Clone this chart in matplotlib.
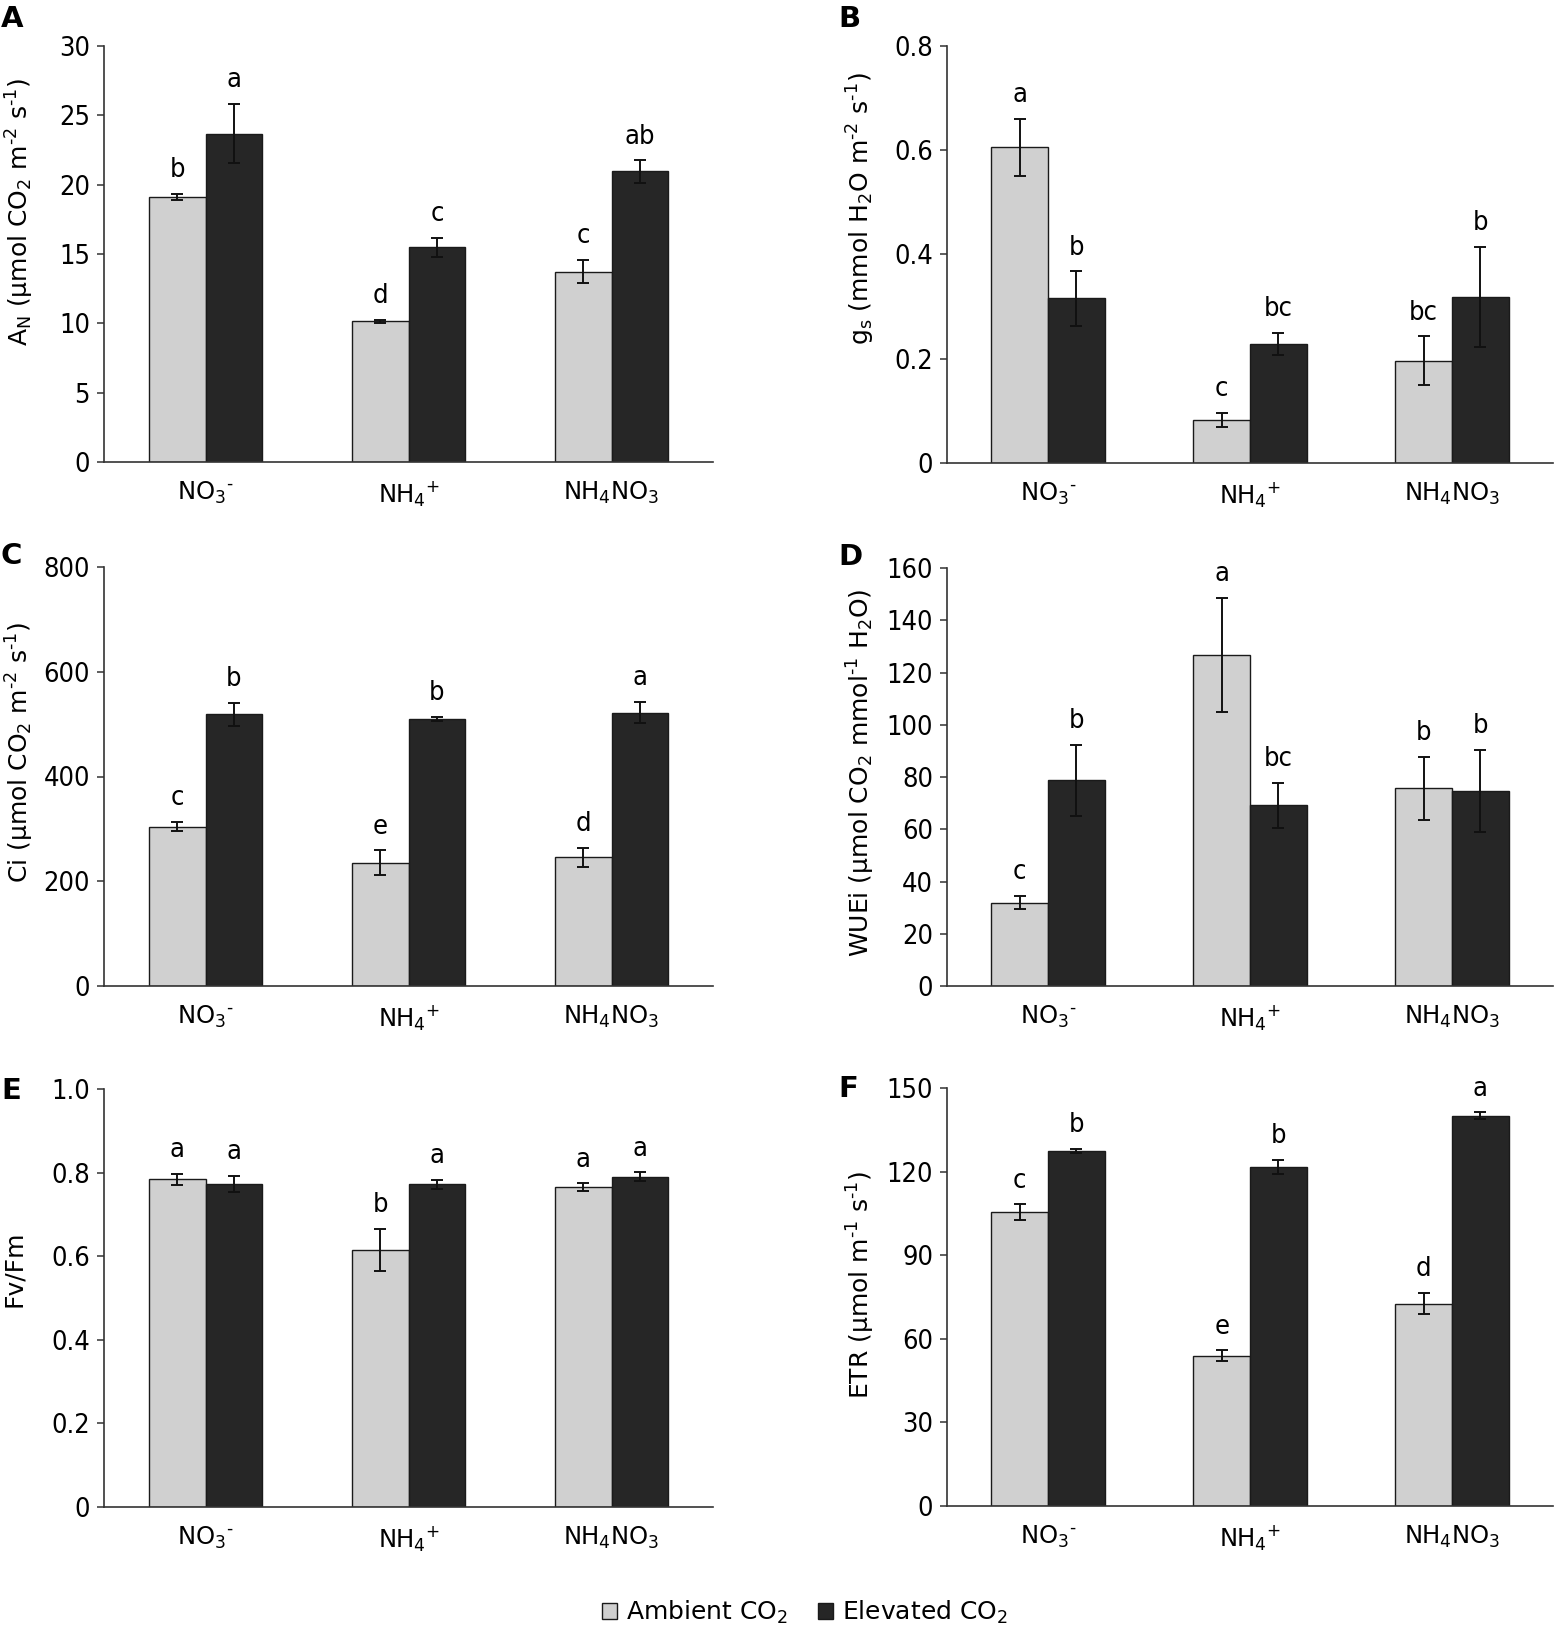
import matplotlib
matplotlib.use("Agg")
import matplotlib.pyplot as plt
from matplotlib.patches import Patch
import numpy as np

plt.rcParams['font.family'] = ['DejaVu Sans']
plt.rcParams['mathtext.fontset'] = 'dejavusans'

categories = [r'NO$_3$$^{\text{-}}$', r'NH$_4$$^{+}$', r'NH$_4$NO$_3$']

# Panel A: net photosynthesis
A_amb = [19.13, 10.15, 13.72]
A_amb_err = [0.2, 0.1, 0.84]
A_elev = [23.68, 15.49, 20.95]
A_elev_err = [2.15, 0.68, 0.81]
A_amb_let = ['b', 'd', 'c']
A_elev_let = ['a', 'c', 'ab']

# Panel B: stomatal conductance
B_amb = [0.606, 0.0825, 0.196]
B_amb_err = [0.0546, 0.014, 0.047]
B_elev = [0.3156, 0.229, 0.319]
B_elev_err = [0.052, 0.021, 0.096]
B_amb_let = ['a', 'c', 'bc']
B_elev_let = ['b', 'bc', 'b']

# Panel C: Ci
C_amb = [304, 235, 246]
C_amb_err = [9, 24, 18]
C_elev = [519, 510, 522]
C_elev_err = [22, 4, 20]
C_amb_let = ['c', 'e', 'd']
C_elev_let = ['b', 'b', 'a']

# Panel D: WUEi
D_amb = [31.9, 126.7, 75.7]
D_amb_err = [2.5, 22, 12.1]
D_elev = [78.7, 69.1, 74.7]
D_elev_err = [13.6, 8.7, 15.6]
D_amb_let = ['c', 'a', 'b']
D_elev_let = ['b', 'bc', 'b']

# Panel E: Fv/Fm
E_amb = [0.7836, 0.615, 0.765]
E_amb_err = [0.013, 0.05, 0.0095]
E_elev = [0.7725, 0.7717, 0.790]
E_elev_err = [0.019, 0.0103, 0.0103]
E_amb_let = ['a', 'b', 'a']
E_elev_let = ['a', 'a', 'a']

# Panel F: ETR
F_amb = [105.5, 54.0, 72.6]
F_amb_err = [2.7, 1.9, 3.8]
F_elev = [127.4, 121.7, 140.0]
F_elev_err = [0.7, 2.6, 1.3]
F_amb_let = ['c', 'e', 'd']
F_elev_let = ['b', 'b', 'a']

W, H = 1555, 1628
fig = plt.figure(figsize=(W / 100, H / 100), dpi=100)

amb_color = '#d0d0d0'
elev_color = '#262626'
edge = '#1a1a1a'

m2s1 = r'm$^{\text{-2}}$ s$^{\text{-1}}$'

panels = [
    dict(key='A', rect=(104, 46, 713, 462), ylim=30, yticks=[0, 5, 10, 15, 20, 25, 30],
         ytl=['0', '5', '10', '15', '20', '25', '30'],
         ylabel=r'A$_\mathregular{N}$ (µmol CO$_2$ ' + m2s1 + ')', lab=(-0.112, 0.60),
         amb=A_amb, ae=A_amb_err, elev=A_elev, ee=A_elev_err, al=A_amb_let, el=A_elev_let,
         letter=(1, 5)),
    dict(key='B', rect=(947, 46, 1553, 463), ylim=0.8, yticks=[0, 0.2, 0.4, 0.6, 0.8],
         ytl=['0', '0.2', '0.4', '0.6', '0.8'],
         ylabel=r'g$_\mathregular{s}$ (mmol H$_2$O ' + m2s1 + ')', lab=(-0.115, 0.61),
         amb=B_amb, ae=B_amb_err, elev=B_elev, ee=B_elev_err, al=B_amb_let, el=B_elev_let,
         letter=(838, 5)),
    dict(key='C', rect=(104, 567, 713, 986), ylim=800, yticks=[0, 200, 400, 600, 800],
         ytl=['0', '200', '400', '600', '800'],
         ylabel=r'Ci (µmol CO$_2$ ' + m2s1 + ')', lab=(-0.112, 0.557),
         amb=C_amb, ae=C_amb_err, elev=C_elev, ee=C_elev_err, al=C_amb_let, el=C_elev_let,
         letter=(1, 542)),
    dict(key='D', rect=(947, 568, 1553, 986), ylim=160, yticks=[0, 20, 40, 60, 80, 100, 120, 140, 160],
         ytl=['0', '20', '40', '60', '80', '100', '120', '140', '160'],
         ylabel=r'WUEi (µmol CO$_2$ mmol$^{\text{-1}}$ H$_2$O)', lab=(-0.115, 0.51),
         amb=D_amb, ae=D_amb_err, elev=D_elev, ee=D_elev_err, al=D_amb_let, el=D_elev_let,
         letter=(838, 543)),
    dict(key='E', rect=(104, 1089, 713, 1507), ylim=1.0, yticks=[0, 0.2, 0.4, 0.6, 0.8, 1.0],
         ytl=['0', '0.2', '0.4', '0.6', '0.8', '1.0'],
         ylabel='Fv/Fm', lab=(-0.128, 0.57),
         amb=E_amb, ae=E_amb_err, elev=E_elev, ee=E_elev_err, al=E_amb_let, el=E_elev_let,
         letter=(1, 1077)),
    dict(key='F', rect=(947, 1088, 1553, 1506), ylim=150, yticks=[0, 30, 60, 90, 120, 150],
         ytl=['0', '30', '60', '90', '120', '150'],
         ylabel=r'ETR (µmol m$^{\text{-1}}$ s$^{\text{-1}}$)', lab=(-0.115, 0.53),
         amb=F_amb, ae=F_amb_err, elev=F_elev, ee=F_elev_err, al=F_amb_let, el=F_elev_let,
         letter=(838, 1075)),
]

x = np.arange(len(categories))
bw = 0.28

for p in panels:
    l, t, r, b = p['rect']
    ax = fig.add_axes([l / W, 1 - b / H, (r - l) / W, (b - t) / H])
    ax.bar(x - bw / 2, p['amb'], bw, color=amb_color, edgecolor=edge, linewidth=1.0, zorder=2)
    ax.bar(x + bw / 2, p['elev'], bw, color=elev_color, edgecolor=edge, linewidth=1.0, zorder=2)
    ax.errorbar(x - bw / 2, p['amb'], yerr=p['ae'], fmt='none', ecolor='#111111',
                elinewidth=1.4, capsize=4, capthick=1.4, zorder=3)
    ax.errorbar(x + bw / 2, p['elev'], yerr=p['ee'], fmt='none', ecolor='#111111',
                elinewidth=1.4, capsize=4, capthick=1.4, zorder=3)
    for xi, v, e, s in zip(x - bw / 2, p['amb'], p['ae'], p['al']):
        ax.annotate(s, (xi, v + e), xytext=(0, 12), textcoords='offset points',
                    ha='center', va='baseline', fontsize=19.5, fontstretch='condensed')
    for xi, v, e, s in zip(x + bw / 2, p['elev'], p['ee'], p['el']):
        ax.annotate(s, (xi, v + e), xytext=(0, 12), textcoords='offset points',
                    ha='center', va='baseline', fontsize=19.5, fontstretch='condensed')
    ax.set_xlim(-0.5, 2.5)
    ax.set_ylim(0, p['ylim'])
    ax.set_yticks(p['yticks'])
    ax.set_yticklabels(p['ytl'], fontsize=19.5, fontstretch='condensed')
    ax.set_xticks(x)
    ax.set_xticklabels(categories, fontsize=17.5)
    ax.tick_params(axis='x', length=0, pad=13)
    ax.tick_params(axis='y', length=5, width=1.1, pad=5, color='#333333')
    for s in ['top', 'right']:
        ax.spines[s].set_visible(False)
    for s in ['left', 'bottom']:
        ax.spines[s].set_color('#333333')
        ax.spines[s].set_linewidth(1.2)
    ax.set_ylabel(p['ylabel'], fontsize=18)
    ax.yaxis.set_label_coords(*p['lab'])
    lx, ly = p['letter']
    fig.text(lx / W, 1 - ly / H, p['key'], fontsize=21, fontweight='bold', ha='left', va='top')

handles = [Patch(facecolor=amb_color, edgecolor=edge, linewidth=1.0, label='Ambient CO$_2$'),
           Patch(facecolor=elev_color, edgecolor=edge, linewidth=1.0, label='Elevated CO$_2$')]
fig.legend(handles=handles, loc='center', bbox_to_anchor=(805 / W, 1 - 1612 / H), ncol=2,
           frameon=False, fontsize=18, handlelength=0.6, handleheight=0.6,
           handletextpad=0.35, columnspacing=1.2, borderpad=0)

fig.savefig('out.png', dpi=100)
